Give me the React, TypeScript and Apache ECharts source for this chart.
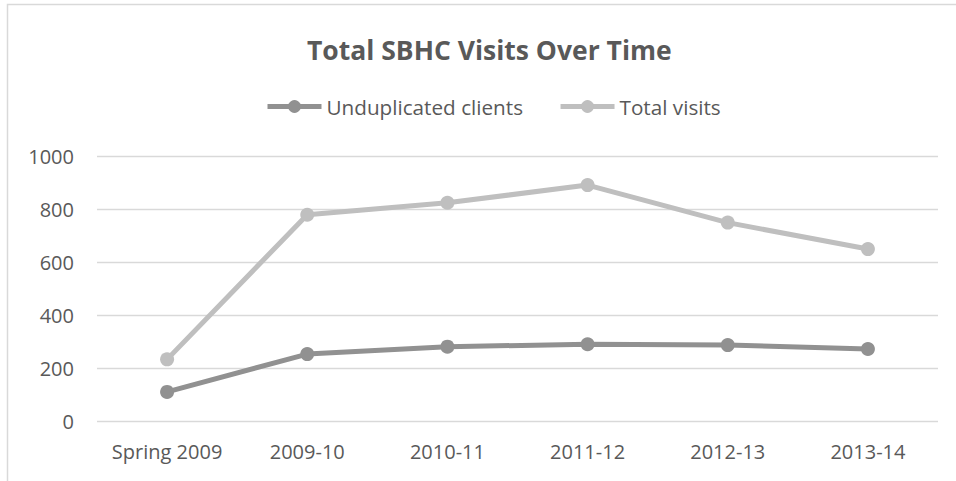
import React, { useEffect, useRef } from "react";
import * as echarts from "echarts";

const categories = ["Spring 2009", "2009-10", "2010-11", "2011-12", "2012-13", "2013-14"];
const unduplicatedClients = [110, 253, 281, 290, 287, 272];
const totalVisits = [233, 780, 825, 892, 750, 650];
const seriesNames = ["Unduplicated clients", "Total visits"];

const FONT = "Open Sans";
const TEXT = "#595959";

export default function App() {
  const ref = useRef<HTMLDivElement>(null);
  useEffect(() => {
    if (!ref.current) return;
    const chart = echarts.init(ref.current, undefined, { renderer: "svg" });
    chart.setOption({
      animation: false,
      backgroundColor: "#ffffff",
      title: {
        text: "Total SBHC Visits Over Time",
        left: 302,
        top: 31,
        textStyle: { fontFamily: FONT, fontSize: 26.5, fontWeight: "bold", color: TEXT },
      },
      legend: {
        left: 260,
        top: 91,
        itemWidth: 54,
        itemHeight: 16,
        itemGap: 35,
        lineStyle: { width: 5 },
        textStyle: { fontFamily: FONT, fontSize: 20.7, color: TEXT },
        data: seriesNames,
      },
      graphic: [
        {
          type: "rect",
          shape: { x: 7.5, y: 4.5, width: 1000, height: 600 },
          style: { fill: "none", stroke: "#d9d9d9", lineWidth: 1.5 },
          silent: true,
          z: -1,
        },
      ],
      grid: { left: 97, right: 18, top: 156.5, bottom: 60, containLabel: false },
      xAxis: {
        type: "category",
        data: categories,
        boundaryGap: true,
        axisLine: { show: false },
        axisTick: { show: false },
        axisLabel: { fontFamily: FONT, fontSize: 20, color: TEXT, margin: 20, interval: 0 },
      },
      yAxis: {
        type: "value",
        min: 0,
        max: 1000,
        interval: 200,
        axisLine: { show: false },
        axisTick: { show: false },
        axisLabel: {
          fontFamily: FONT,
          fontSize: 20,
          color: TEXT,
          margin: 23,
          formatter: (v: number) => String(v),
        },
        splitLine: { lineStyle: { color: "#d9d9d9", width: 1.3 } },
      },
      series: [
        {
          name: seriesNames[0],
          type: "line",
          data: unduplicatedClients,
          symbol: "circle",
          symbolSize: 14,
          lineStyle: { color: "#919191", width: 5 },
          itemStyle: { color: "#919191" },
        },
        {
          name: seriesNames[1],
          type: "line",
          data: totalVisits,
          symbol: "circle",
          symbolSize: 14,
          lineStyle: { color: "#bfbfbf", width: 5 },
          itemStyle: { color: "#bfbfbf" },
        },
      ],
    });
    return () => chart.dispose();
  }, []);
  return (
    <div
      ref={ref}
      style={{ position: "fixed", left: 0, top: 0, width: 956, height: 481 }}
    />
  );
}
